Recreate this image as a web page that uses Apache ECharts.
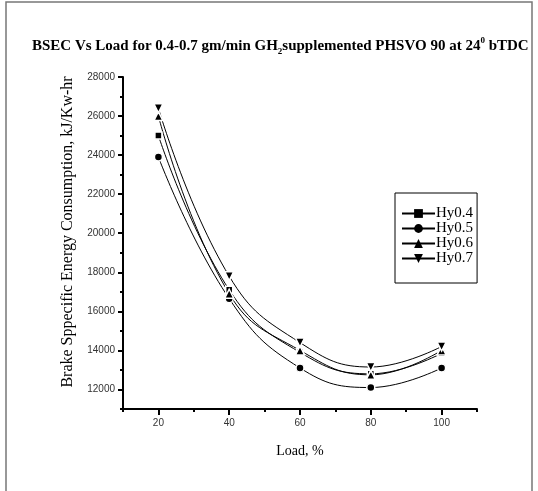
<!DOCTYPE html>
<html>
<head>
<meta charset="utf-8">
<script src="https://cdn.jsdelivr.net/npm/echarts@6/dist/echarts.min.js"></script>
<style>
  html, body { margin: 0; padding: 0; background: #fff; }
  #main { width: 538px; height: 491px; }
</style>
</head>
<body>
<div id="main"></div>
<script>
// data
var load = [20, 40, 60, 80, 100];
var hy04 = [25000, 17100, 13900, 12800, 13850];
var hy05 = [23900, 16650, 13100, 12100, 13100];
var hy06 = [26000, 16900, 14000, 12750, 14000];
var hy07 = [26400, 17800, 14400, 13150, 14200];
var xTickLabels = [20, 40, 60, 80, 100];
var yTickLabels = [12000, 14000, 16000, 18000, 20000, 22000, 24000, 26000, 28000];

var serif = '"Liberation Serif", "DejaVu Serif", serif';
var sans = '"Liberation Sans", Arial, sans-serif';

function pairs(ys) {
  return load.map(function (x, i) { return [x, ys[i]]; });
}

function makeSeries(name, ys, symbol, rotate, size) {
  return {
    name: name,
    type: 'line',
    data: pairs(ys),
    smooth: 0.45,
    symbol: symbol,
    symbolRotate: rotate,
    symbolSize: size,
    color: '#000',
    lineStyle: { color: '#000', width: 1 },
    itemStyle: { color: '#000', borderColor: '#fff', borderWidth: 1.5 }
  };
}

var myChart = echarts.init(document.getElementById('main'));

var option = {
  animation: false,
  backgroundColor: '#fff',
  title: {
    left: 27,
    top: 31,
    text: '{t|BSEC Vs Load for 0.4-0.7 gm/min GH}{sub|2}{t|supplemented PHSVO 90 at 24}{sup|0}{t| bTDC}',
    textStyle: {
      rich: {
        t: { fontFamily: serif, fontWeight: 'bold', fontSize: 15, color: '#000', lineHeight: 20 },
        sub: { fontFamily: serif, fontWeight: 'bold', fontSize: 9, color: '#000', lineHeight: 9, verticalAlign: 'bottom' },
        sup: { fontFamily: serif, fontWeight: 'bold', fontSize: 9, color: '#000', lineHeight: 9, verticalAlign: 'top' }
      }
    }
  },
  legend: {
    orient: 'vertical',
    left: 395,
    top: 193,
    padding: [13, 4, 17, 6],
    borderColor: '#000',
    borderWidth: 1,
    itemWidth: 33,
    itemHeight: 11,
    itemGap: 0,
    itemStyle: { borderWidth: 0 },
    lineStyle: { width: 2 },
    textStyle: { fontFamily: serif, fontSize: 15, lineHeight: 14.2, color: '#000', padding: [0, 0, 0, -4] },
    data: ['Hy0.4', 'Hy0.5', 'Hy0.6', 'Hy0.7']
  },
  grid: { left: 123, right: 61, top: 77, bottom: 82 },
  xAxis: [
    {
      type: 'value',
      position: 'bottom',
      min: 10,
      max: 110,
      interval: 10,
      name: 'Load, %',
      nameLocation: 'middle',
      nameGap: 35,
      nameTextStyle: { fontFamily: serif, fontSize: 14, color: '#000' },
      axisLine: { lineStyle: { color: '#000', width: 2 } },
      axisTick: { length: 3, lineStyle: { color: '#000', width: 2 } },
      axisLabel: { show: false },
      splitLine: { show: false }
    },
    {
      type: 'value',
      position: 'bottom',
      min: 10,
      max: 110,
      axisLine: { show: false },
      axisTick: { length: 6, customValues: xTickLabels, lineStyle: { color: '#000', width: 2 } },
      axisLabel: { customValues: xTickLabels, fontFamily: sans, fontSize: 10, color: '#333', margin: 9 },
      splitLine: { show: false }
    }
  ],
  yAxis: [
    {
      type: 'value',
      position: 'left',
      min: 11000,
      max: 28000,
      interval: 1000,
      axisLine: { show: true, lineStyle: { color: '#000', width: 2 } },
      axisTick: { show: true, length: 3, lineStyle: { color: '#000', width: 2 } },
      axisLabel: { show: false },
      splitLine: { show: false }
    },
    {
      type: 'value',
      position: 'left',
      min: 11000,
      max: 28000,
      axisLine: { show: false },
      axisTick: { show: true, length: 5, customValues: yTickLabels, lineStyle: { color: '#000', width: 2 } },
      axisLabel: {
        customValues: yTickLabels,
        formatter: function (v) { return String(v); },
        fontFamily: sans, fontSize: 10, color: '#333', margin: 8
      },
      splitLine: { show: false }
    }
  ],
  graphic: [
    {
      type: 'polyline',
      shape: { points: [[6, 491], [6, 2], [532, 2], [532, 491]] },
      style: { stroke: '#777', lineWidth: 1.5, fill: null }
    },
    {
      // y axis title
      type: 'text',
      x: 68,
      y: 232,
      rotation: Math.PI / 2,
      style: {
        text: 'Brake Sppecific Energy Consumption, kJ/Kw-hr',
        font: '16px ' + serif,
        fill: '#000',
        align: 'center',
        verticalAlign: 'middle'
      }
    }
  ],
  series: [
    makeSeries('Hy0.4', hy04, 'rect', 0, 7),
    makeSeries('Hy0.5', hy05, 'circle', 0, 8),
    makeSeries('Hy0.6', hy06, 'triangle', 0, 9),
    makeSeries('Hy0.7', hy07, 'triangle', 180, 9)
  ]
};

myChart.setOption(option);
</script>
</body>
</html>
